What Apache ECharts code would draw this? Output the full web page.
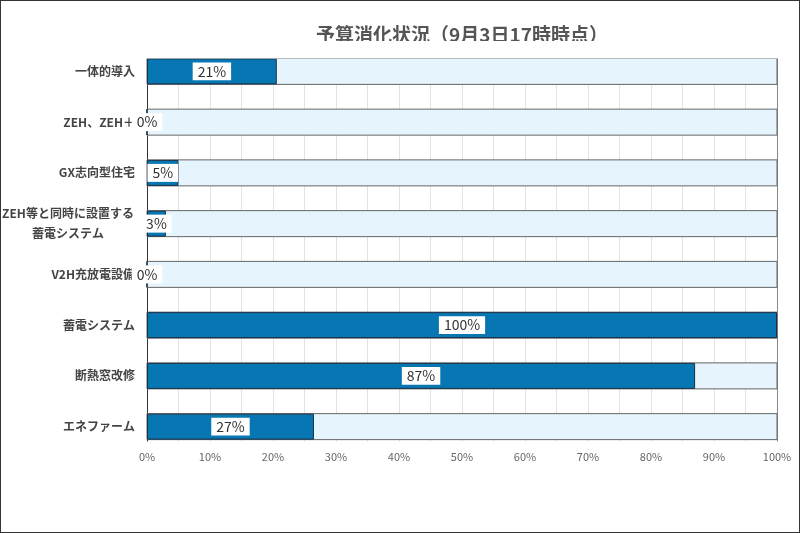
<!DOCTYPE html>
<html>
<head>
<meta charset="utf-8">
<script src="https://cdn.jsdelivr.net/npm/echarts@6/dist/echarts.min.js"></script>
<style>
    html, body { margin: 0; padding: 0; background: #fff; }
    #chart { width: 800px; height: 533px; box-sizing: border-box; border: 1px solid #333; }
</style>
</head>
<body>
<div id="chart"></div>
<script>
const categories = ['一体的導入', 'ZEH、ZEH＋', 'GX志向型住宅', 'ZEH等と同時に設置する\n蓄電システム', 'V2H充放電設備', '蓄電システム', '断熱窓改修', 'エネファーム'];
const usedRate = [20.6, 0, 5, 3, 0, 100, 87, 26.5];
const xTicks = [0, 10, 20, 30, 40, 50, 60, 70, 80, 90, 100];

const font = '"Noto Sans CJK JP", "Noto Sans", sans-serif';

const chart = echarts.init(document.getElementById('chart'));
chart.setOption({
    animation: false,
    title: {
        text: '予算消化状況（9月3日17時時点）',
        left: 456,
        textAlign: 'center',
        top: 19,
        textStyle: { fontFamily: font, fontSize: 19, fontWeight: 'bold', color: '#555' }
    },
    grid: { left: 146, right: 22, top: 45, bottom: 80, outerBoundsMode: 'none', containLabel: false },
    xAxis: [
        {
            type: 'value',
            min: 0,
            max: 100,
            interval: 5,
            z: 0,
            axisLine: { show: false },
            axisTick: { show: false },
            axisLabel: { show: false },
            splitLine: {
                lineStyle: {
                    color: Array.from({ length: 21 }, (_, i) => i === 20 ? '#888' : '#e3e3e3'),
                    width: 1
                }
            }
        },
        {
            type: 'value',
            min: 0,
            max: 100,
            interval: 10,
            position: 'bottom',
            z: 200,
            axisLine: { show: false },
            axisTick: { show: false },
            splitLine: { show: false },
            axisLabel: {
                fontFamily: font,
                fontSize: 11,
                color: '#666',
                margin: -1,
                formatter: v => xTicks.includes(v) ? v + '%' : ''
            }
        }
    ],
    yAxis: {
        type: 'category',
        inverse: true,
        data: categories,
        axisLine: { show: true, lineStyle: { color: '#333', width: 1 } },
        axisTick: { show: false },
        axisLabel: {
            margin: 12,
            fontFamily: font,
            fontSize: 12,
            fontWeight: 'bold',
            color: '#444',
            formatter: v => v.includes('\n') ? v.split('\n').map(s => '{c|' + s + '}').join('\n') : v,
            rich: {
                c: { fontFamily: font, fontSize: 12, fontWeight: 'bold', color: '#444', width: 134, align: 'center', lineHeight: 20 }
            }
        }
    },
    series: [
        {
            name: '消化率',
            type: 'bar',
            xAxisIndex: 0,
            data: usedRate,
            barWidth: 26,
            showBackground: true,
            backgroundStyle: { color: '#e6f4fd', borderColor: '#666', borderWidth: 1 },
            itemStyle: { color: '#0777b4', borderColor: '#1b2f44', borderWidth: 1 },
            label: {
                show: true,
                position: 'inside',
                formatter: p => Math.round(p.value) + '%',
                fontFamily: font,
                fontSize: 14,
                color: '#333',
                backgroundColor: '#fff',
                padding: [2, 5]
            }
        }
    ],
    graphic: [
        { type: 'rect', z: 100, shape: { x: 138, y: 40, width: 652, height: 17.5 }, style: { fill: '#fff' } },
        { type: 'rect', z: 100, shape: { x: 138, y: 440.5, width: 652, height: 14 }, style: { fill: '#fff' } }
    ]
});
</script>
</body>
</html>
